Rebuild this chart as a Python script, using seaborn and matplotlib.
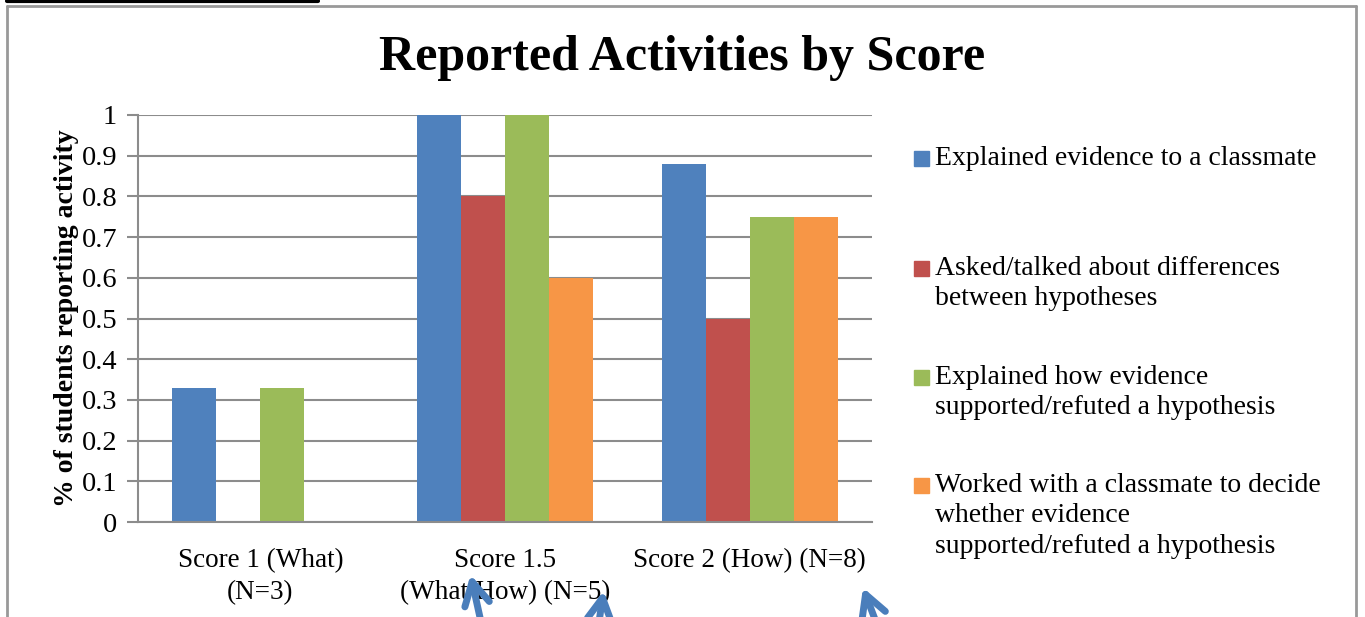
import pandas as pd
import matplotlib.pyplot as plt
import seaborn as sns
from matplotlib.lines import Line2D
from matplotlib.patches import Rectangle

# Chart data
categories = ['Score 1 (What)\n(N=3)', 'Score 1.5\n(What/How) (N=5)', 'Score 2 (How) (N=8)']
activities = [
    'Explained evidence to a classmate',
    'Asked/talked about differences\nbetween hypotheses',
    'Explained how evidence\nsupported/refuted a hypothesis',
    'Worked with a classmate to decide\nwhether evidence\nsupported/refuted a hypothesis',
]
explained_evidence = [0.33, 1.0, 0.88]
asked_differences = [0.0, 0.8, 0.5]
explained_how = [0.33, 1.0, 0.75]
worked_with = [0.0, 0.6, 0.75]
yticks = [0, 0.1, 0.2, 0.3, 0.4, 0.5, 0.6, 0.7, 0.8, 0.9, 1]
ytick_labels = ['0', '0.1', '0.2', '0.3', '0.4', '0.5', '0.6', '0.7', '0.8', '0.9', '1']
colors = ['#4f81bd', '#c0504d', '#9bbb59', '#f79646']


def main():
    series = [explained_evidence, asked_differences, explained_how, worked_with]
    rows = []
    for act, vals in zip(activities, series):
        for cat, v in zip(categories, vals):
            rows.append({'Score': cat, 'Activity': act, 'Value': v})
    df = pd.DataFrame(rows)

    sns.set_style('white')
    plt.rcParams['font.family'] = ['Liberation Serif', 'DejaVu Serif']
    plt.rcParams['text.color'] = 'black'
    plt.rcParams['axes.labelcolor'] = 'black'

    fig = plt.figure(figsize=(13.65, 6.17), dpi=100)
    W, H = 1365, 617
    ax = fig.add_axes([138 / W, (H - 522) / H, 734 / W, 407 / H])

    sns.barplot(data=df, x='Score', y='Value', hue='Activity', order=categories,
                hue_order=activities, palette=colors, width=0.72, saturation=1,
                linewidth=0, legend=False, ax=ax)

    grid_c = '#8c8c8c'
    ax.set_ylim(0, 1)
    ax.set_xlim(-0.5, 2.5)
    ax.set_yticks(yticks)
    ax.set_yticklabels(ytick_labels, fontsize=20.5)
    ax.set_xticks(range(len(categories)))
    ax.set_xticklabels(categories, fontsize=19.5, linespacing=1.35)
    ax.set_xticks([-0.5, 0.5, 1.5, 2.5], minor=True)
    ax.tick_params(axis='x', which='major', length=0, pad=19, labelcolor='black')
    ax.tick_params(axis='x', which='minor', length=10, width=1.5, color=grid_c)
    ax.tick_params(axis='y', length=8, width=1.5, color=grid_c, left=True, pad=7,
                   labelcolor='black')
    ax.yaxis.grid(True, color=grid_c, linewidth=1.5)
    ax.set_axisbelow(True)
    for side in ['top', 'right']:
        ax.spines[side].set_visible(False)
    for side in ['left', 'bottom']:
        ax.spines[side].set_color(grid_c)
        ax.spines[side].set_linewidth(1.5)
    ax.set_xlabel('')
    ax.set_ylabel('% of students reporting activity', fontsize=20,
                  fontweight='bold', labelpad=2)

    fig.text(682 / W, 1 - 58 / H, 'Reported Activities by Score', ha='center',
             va='center', fontsize=36, fontweight='bold')

    # Legend on the right, marker aligned with the first line
    legend_y = [159, 269, 378, 486]
    for act, col, y in zip(activities, colors, legend_y):
        fig.patches.append(Rectangle((914 / W, 1 - (y + 7) / H), 15 / W, 15 / H,
                                     transform=fig.transFigure, color=col))
        fig.text(935 / W, 1 - (y - 13) / H, act, ha='left', va='top', fontsize=20,
                 linespacing=1.28, transform=fig.transFigure)

    # Chart border and page line
    fc = '#999999'
    fig.lines.append(Line2D([7 / W, 7 / W], [0, 1 - 6 / H], color=fc, lw=2,
                            transform=fig.transFigure))
    fig.lines.append(Line2D([7 / W, 1356 / W], [1 - 6 / H, 1 - 6 / H], color=fc, lw=2,
                            transform=fig.transFigure))
    fig.lines.append(Line2D([1356 / W, 1356 / W], [0, 1 - 6 / H], color=fc, lw=2,
                            transform=fig.transFigure))
    fig.lines.append(Line2D([7 / W, 318 / W], [1 - 1 / H, 1 - 1 / H], color='black',
                            lw=3, transform=fig.transFigure))

    # Blue annotation arrows
    arrows = [((470, H - 572), (481, -5)), ((604, H - 588), (599, -5)),
              ((862, H - 585), (876, -5))]
    for tip, tail in arrows:
        ax.annotate('', xy=tip, xycoords='figure pixels', xytext=tail,
                    textcoords='figure pixels', annotation_clip=False,
                    arrowprops=dict(arrowstyle='->,head_length=0.55,head_width=0.3',
                                    mutation_scale=30, color='#4a7ebb', lw=5))

    fig.savefig('out.png', dpi=100)


if __name__ == '__main__':
    main()
